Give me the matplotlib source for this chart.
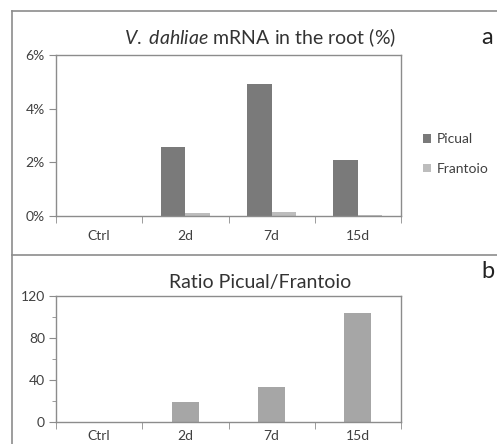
import numpy as np
import matplotlib
matplotlib.use("Agg")
import matplotlib.pyplot as plt
from matplotlib.lines import Line2D
from matplotlib.ticker import FuncFormatter, MultipleLocator

plt.rcParams['font.family'] = ['Lato', 'DejaVu Sans']
plt.rcParams['mathtext.fontset'] = 'custom'
plt.rcParams['mathtext.it'] = 'Lato:italic'
plt.rcParams['mathtext.rm'] = 'Lato'

# data
days = ['Ctrl', '2d', '7d', '15d']
picual = [0, 2.56, 4.91, 2.09]       # % V. dahliae mRNA
frantoio = [0, 0.13, 0.15, 0.02]
ratio = [0, 19, 33, 104]             # Picual / Frantoio

W, H = 497, 444
fig = plt.figure(figsize=(W / 100, H / 100), dpi=100)

axis_col = '#8c8c8c'
text_col = '#404040'

def px(x0, y0, x1, y1):
    # pixel box (left, top, right, bottom) -> figure rect
    return [x0 / W, 1 - y1 / H, (x1 - x0) / W, (y1 - y0) / H]

def style(ax, xpad):
    for s in ax.spines.values():
        s.set_color(axis_col)
        s.set_linewidth(1)
    x = np.arange(len(days))
    ax.set_xlim(-0.5, len(days) - 0.5)
    ax.set_xticks(x)
    ax.set_xticklabels(days)
    ax.set_xticks(np.arange(-0.5, len(days)), minor=True)
    ax.tick_params(axis='x', which='major', length=0, pad=xpad, labelsize=10, labelcolor=text_col)
    ax.tick_params(axis='x', which='minor', length=5, color=axis_col, direction='out')
    ax.tick_params(axis='y', which='major', length=5, color=axis_col, labelsize=10,
                   labelcolor=text_col, pad=3)

title_x = (260 - 56) / 345  # titles centred over the whole chart, not the plot area

# panel a
ax1 = fig.add_axes(px(56, 55, 401, 216))
x = np.arange(len(days))
w = 0.285
ax1.bar(x - w / 2, picual, w, color='#7a7a7a', label='Picual')
ax1.bar(x + w / 2, frantoio, w, color='#bdbdbd', label='Frantoio')
ax1.set_ylim(0, 6)
ax1.set_yticks([0, 2, 4, 6])
ax1.yaxis.set_major_formatter(FuncFormatter(lambda v, p: f'{v:.0f}%'))
style(ax1, 10)
ax1.set_title(r'$\it{V.}$ $\it{dahliae}$ mRNA in the root (%)', fontsize=14,
              color='#333333', pad=8, x=title_x)
leg = ax1.legend(loc='center left', bbox_to_anchor=(423 / W, 1 - 154 / H),
                 bbox_transform=fig.transFigure, frameon=False, fontsize=10,
                 handlelength=0.55, handleheight=0.55, handletextpad=0.45,
                 labelspacing=1.25, borderpad=0, borderaxespad=0)
for t in leg.get_texts():
    t.set_color(text_col)

# panel b
ax2 = fig.add_axes(px(56, 296, 401, 422))
ax2.bar(x, ratio, 0.315, color='#a6a6a6')
ax2.set_ylim(0, 120)
ax2.set_yticks([0, 40, 80, 120])
ax2.yaxis.set_minor_locator(MultipleLocator(20))
ax2.tick_params(axis='y', which='minor', length=3, color=axis_col)
style(ax2, 6)
ax2.set_title('Ratio Picual/Frantoio', fontsize=14, color='#333333', pad=6, x=title_x)

# panel letters
fig.text(487 / W, 1 - 37 / H, 'a', fontsize=17, ha='center', va='center', color='#222222')
fig.text(488 / W, 1 - 272 / H, 'b', fontsize=17, ha='center', va='center', color='#222222')

# outer frame and divider
for (xs, ys) in [((12, W), (11, 11)), ((12, 12), (11, H)), ((12, W), (255, 255))]:
    fig.add_artist(Line2D([v / W for v in xs], [1 - v / H for v in ys],
                          color=axis_col, lw=1.2, transform=fig.transFigure))

fig.savefig('out.png', dpi=100)
